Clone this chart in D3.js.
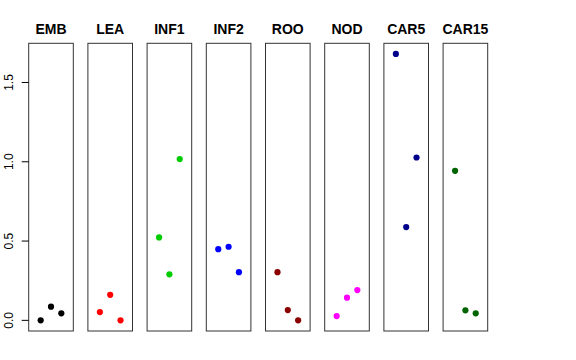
<!DOCTYPE html>
<html><head><meta charset="utf-8">
<script src="https://cdn.jsdelivr.net/npm/d3@7"></script>
<style>body{margin:0;background:#fff}svg{display:block}</style>
</head><body><svg id="c" width="576" height="360"></svg>
<script>
const categories = ["EMB","LEA","INF1","INF2","ROO","NOD","CAR5","CAR15"];
const colors = ["#000000","#FF0000","#00CD00","#0000FF","#8B0000","#FF00FF","#00008B","#006400"];
const values = [
  [0.0, 0.086, 0.044],
  [0.052, 0.161, 0.0],
  [0.523, 0.290, 1.017],
  [0.449, 0.464, 0.304],
  [0.304, 0.065, 0.0],
  [0.027, 0.143, 0.191],
  [1.680, 0.588, 1.027],
  [0.943, 0.063, 0.044]
];
const yTicks = [0, 0.5, 1.0, 1.5];
const yTickLabels = ["0.0","0.5","1.0","1.5"];

(function () {
const svg = d3.select("#c");
const font = "'Liberation Sans', Arial, Helvetica, sans-serif";
const plotTop = 43.3, plotBottom = 331;
const all = values.flat();
const ymin = d3.min(all), ymax = d3.max(all), ext = (ymax - ymin) * 0.04;
const y = d3.scaleLinear().domain([ymin - ext, ymax + ext]).range([plotBottom, plotTop]);
const band = d3.scaleBand().domain(categories).range([28.7, 487.7]).paddingInner(0.2466).paddingOuter(0);
const bw = band.bandwidth();
const xin = d3.scaleLinear().domain([-0.16, 4.16]).range([0, bw]);

categories.forEach((c, i) => {
  const g = svg.append("g").attr("transform", `translate(${band(c)},0)`);
  g.append("rect").attr("x", 0).attr("y", plotTop).attr("width", bw).attr("height", plotBottom - plotTop)
    .attr("fill", "none").attr("stroke", "#333").attr("stroke-width", 1);
  g.append("text").attr("x", bw / 2).attr("y", 34).attr("text-anchor", "middle")
    .attr("font-family", font).attr("font-weight", "bold").attr("font-size", 14).text(c);
  g.selectAll("circle").data(values[i]).join("circle")
    .attr("cx", (d, j) => xin(j + 1)).attr("cy", d => y(d)).attr("r", 3.1)
    .attr("fill", colors[i]);
});

const left = band(categories[0]);
const ax = svg.append("g");
yTicks.forEach((t, k) => {
  ax.append("line").attr("x1", left - 7).attr("x2", left).attr("y1", y(t)).attr("y2", y(t))
    .attr("stroke", "#000").attr("stroke-width", 1);
  ax.append("text").attr("transform", `translate(13,${y(t)}) rotate(-90)`)
    .attr("text-anchor", "middle").attr("font-family", font).attr("font-size", 12)
    .attr("fill", "#000").text(yTickLabels[k]);
});
})();
</script></body></html>
